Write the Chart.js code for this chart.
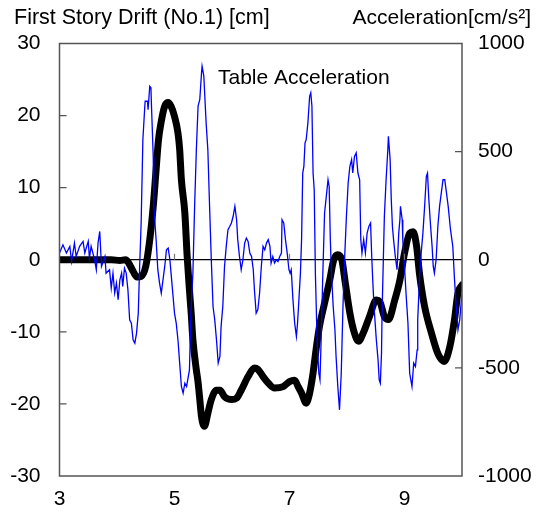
<!DOCTYPE html>
<html lang="en">
<head>
    <meta charset="UTF-8">
    <title>First Story Drift and Table Acceleration</title>
    <script src="https://cdn.jsdelivr.net/npm/chart.js"></script>
    <style>
        * { margin: 0; padding: 0; box-sizing: border-box; }
        body { background: #fff; width: 537px; height: 518px; overflow: hidden; }
        canvas { display: block; }
    </style>
</head>
<body>
    <canvas id="driftChart" width="537" height="518"></canvas>

    <script>
        // time axis ticks [s]
        const xTickValues = [3, 5, 7, 9];

        // first story drift (No.1) [cm]
        const driftTime = [
            3.0, 3.5, 3.9, 4.05, 4.15, 4.2, 4.28, 4.35, 4.42, 4.5, 4.57, 4.63, 4.68, 4.72, 4.77, 4.83,
            4.89, 4.94, 5.0, 5.06, 5.09, 5.12, 5.18, 5.22, 5.26, 5.29, 5.32, 5.38, 5.41, 5.44, 5.47, 5.52,
            5.58, 5.64, 5.73, 5.79, 5.87, 5.99, 6.08, 6.16, 6.28, 6.39, 6.45, 6.54, 6.63, 6.74, 6.89, 7.0,
            7.09, 7.15, 7.21, 7.29, 7.35, 7.41, 7.47, 7.52, 7.61, 7.7, 7.77, 7.84, 7.91, 7.97, 8.05, 8.13,
            8.2, 8.28, 8.39, 8.51, 8.57, 8.65, 8.72, 8.83, 8.92, 9.0, 9.09, 9.15, 9.21, 9.26, 9.35, 9.47,
            9.58, 9.69, 9.79, 9.87, 9.93, 10.0
        ];
        const driftValues = [
            0, 0, 0, -0.1, 0, -0.4, -1.6, -2.4, -2.3, -0.9, 2.8, 7.4, 12.5, 16.5, 19.2, 21.3,
            21.8, 21.3, 19.9, 17.6, 15.3, 11.1, 6.5, 0.5, -4.2, -7.4, -11.1, -15.3, -17, -19.4, -21.8, -23.1,
            -21.3, -19.4, -18.1, -18.1, -19.0, -19.4, -19.2, -18.1, -16.2, -15.0, -15.2, -16.2, -17.1, -17.8, -17.6, -16.9,
            -16.7, -17.6, -18.5, -19.9, -18.5, -15.7, -12.0, -9.3, -6.0, -2.8, 0, 0.7, 0, -3.2, -7.4, -10.2,
            -11.3, -10.2, -7.9, -5.6, -5.8, -7.9, -8.3, -5.6, -2.8, 0.9, 3.7, 3.9, 1.9, -1.9, -6.5, -10.2,
            -13.0, -14.1, -12.0, -8.3, -4.6, -3.5
        ];

        // table acceleration [cm/s2]
        const accelTime = [
            3.0, 3.06, 3.12, 3.18, 3.21, 3.26, 3.29, 3.35, 3.41, 3.44, 3.5, 3.52, 3.55, 3.61, 3.64, 3.67,
            3.7, 3.73, 3.79, 3.81, 3.87, 3.9, 3.93, 3.96, 3.99, 4.02, 4.05, 4.08, 4.1, 4.13, 4.16, 4.19,
            4.22, 4.25, 4.28, 4.31, 4.34, 4.37, 4.39, 4.42, 4.45, 4.48, 4.49, 4.53, 4.54, 4.57, 4.59, 4.6,
            4.63, 4.64, 4.68, 4.71, 4.74, 4.77, 4.8, 4.83, 4.86, 4.89, 4.92, 4.94, 4.97, 5.0, 5.03, 5.06,
            5.09, 5.12, 5.15, 5.18, 5.21, 5.26, 5.28, 5.29, 5.32, 5.35, 5.38, 5.41, 5.44, 5.47, 5.48, 5.51,
            5.55, 5.58, 5.61, 5.64, 5.67, 5.7, 5.73, 5.76, 5.79, 5.81, 5.84, 5.87, 5.9, 5.93, 5.96, 5.99,
            6.02, 6.05, 6.08, 6.1, 6.13, 6.16, 6.19, 6.22, 6.25, 6.28, 6.31, 6.34, 6.37, 6.39, 6.42, 6.45,
            6.48, 6.51, 6.54, 6.57, 6.6, 6.63, 6.66, 6.68, 6.71, 6.74, 6.77, 6.8, 6.83, 6.86, 6.87, 6.9,
            6.93, 6.96, 6.99, 7.01, 7.03, 7.06, 7.09, 7.12, 7.14, 7.16, 7.19, 7.21, 7.23, 7.25, 7.27, 7.29,
            7.32, 7.35, 7.37, 7.39, 7.41, 7.43, 7.45, 7.48, 7.51, 7.53, 7.55, 7.58, 7.61, 7.64, 7.67, 7.69,
            7.71, 7.73, 7.76, 7.79, 7.81, 7.84, 7.87, 7.9, 7.93, 7.96, 7.99, 8.02, 8.05, 8.08, 8.1, 8.13,
            8.16, 8.19, 8.22, 8.24, 8.26, 8.29, 8.32, 8.35, 8.38, 8.41, 8.43, 8.45, 8.47, 8.49, 8.51, 8.54,
            8.56, 8.58, 8.6, 8.61, 8.64, 8.65, 8.68, 8.71, 8.72, 8.75, 8.77, 8.79, 8.81, 8.84, 8.87, 8.9,
            8.92, 8.93, 8.96, 8.97, 9.0, 9.03, 9.06, 9.09, 9.11, 9.13, 9.16, 9.19, 9.22, 9.23, 9.26, 9.29,
            9.32, 9.35, 9.38, 9.4, 9.42, 9.45, 9.48, 9.5, 9.52, 9.55, 9.58, 9.61, 9.64, 9.67, 9.7, 9.73,
            9.76, 9.8, 9.84, 9.87, 9.9, 9.93, 9.96, 10.0
        ];
        const accelValues = [
            31, 69, 31, 62, -8, 77, 15, 62, 85, 31, 85, 8, 62, 0, -46, 77,
            131, -31, 15, -62, -46, -131, -62, -154, -108, -185, -93, -62, -123, -39, -62, -139,
            -278, -293, -370, -386, -339, -247, -62, 170, 555, 694, 733, 733, 694, 802, 795, 710,
            478, 247, 93, -46, -108, -154, -93, -31, 46, 54, 0, -62, -154, -247, -293, -370,
            -478, -586, -617, -571, -586, -509, -293, -216, -62, 247, 509, 710, 741, 864, 895, 849,
            633, 509, 247, 0, -216, -278, -370, -478, -447, -309, -216, -31, 62, 139, 154, 170,
            201, 247, 185, 93, 15, -46, 0, 77, 100, 85, 31, 15, -46, -139, -247, -230,
            -154, -31, 62, 46, 77, 93, 62, -15, 15, -15, 0, -8, 15, 31, 185, 170,
            93, 31, -46, -62, -46, -185, -293, -355, -293, -201, -62, 93, 401, 432, 540, 555,
            633, 756, 772, 710, 401, 324, -62, -370, -525, -555, -370, -62, 216, 293, 370, 339,
            93, -62, -216, -324, -447, -586, -694, -525, -216, 15, 201, 355, 432, 463, 401, 478,
            494, 401, 370, 93, 31, 93, 31, 123, 154, 170, 15, -108, -216, -293, -370, -463,
            -555, -571, -432, -247, 93, 201, 370, 509, 571, 463, 278, 154, 93, 15, -46, 123,
            185, 247, 185, 93, -31, -170, -293, -525, -555, -586, -478, -494, -417, -278, -93, 31,
            123, 247, 386, 401, 293, 170, 62, -31, -62, 0, 154, 247, 309, 370, 370, 309,
            247, 139, 62, -93, -216, -324, -278, -154
        ];

        const FONT = '"Liberation Sans", Arial, sans-serif';

        // frame, inward ticks and the free texts
        const decorations = {
            id: 'decorations',
            afterDraw(chart) {
                const { ctx, chartArea: a, scales } = chart;
                const { x, y, y1 } = scales;
                ctx.save();

                ctx.strokeStyle = '#555';
                ctx.lineWidth = 1.5;
                ctx.strokeRect(a.left, a.top, a.right - a.left, a.bottom - a.top);

                ctx.lineWidth = 1.2;
                ctx.beginPath();
                [-20, -10, 10, 20].forEach(v => {
                    const py = y.getPixelForValue(v);
                    ctx.moveTo(a.left, py);
                    ctx.lineTo(a.left + 7, py);
                });
                [-500, 500].forEach(v => {
                    const py = y1.getPixelForValue(v);
                    ctx.moveTo(a.right, py);
                    ctx.lineTo(a.right - 7, py);
                });
                ctx.stroke();

                ctx.strokeStyle = '#777';
                ctx.beginPath();
                const y0 = y.getPixelForValue(0);
                xTickValues.slice(1).forEach(v => {
                    const px = x.getPixelForValue(v);
                    ctx.moveTo(px, y0);
                    ctx.lineTo(px, y0 - 6);
                });
                ctx.stroke();

                ctx.fillStyle = '#000';
                ctx.font = '21.5px ' + FONT;
                ctx.textBaseline = 'alphabetic';
                ctx.textAlign = 'left';
                ctx.fillText('First Story Drift (No.1) [cm]', 14, 24);
                ctx.font = '21px ' + FONT;
                ctx.fillText('Table Acceleration', 218, 84);
                ctx.textAlign = 'right';
                ctx.fillText('Acceleration[cm/s²]', 531, 24);

                ctx.restore();
            }
        };

        new Chart(document.getElementById('driftChart'), {
            type: 'line',
            data: {
                datasets: [{
                    label: 'Table Acceleration',
                    data: accelTime.map((t, i) => ({ x: t, y: accelValues[i] })),
                    yAxisID: 'y1',
                    borderColor: '#0000ff',
                    borderWidth: 1.3,
                    pointRadius: 0,
                    tension: 0,
                    order: 0
                }, {
                    label: 'First Story Drift',
                    data: driftTime.map((t, i) => ({ x: t, y: driftValues[i] })),
                    yAxisID: 'y',
                    borderColor: '#000',
                    borderWidth: 7,
                    pointRadius: 0,
                    cubicInterpolationMode: 'monotone',
                    borderCapStyle: 'round',
                    borderJoinStyle: 'round',
                    order: 1
                }]
            },
            options: {
                responsive: false,
                animation: false,
                events: [],
                layout: { padding: { top: 43.5, left: 0, right: 0, bottom: 0 } },
                plugins: {
                    legend: { display: false },
                    tooltip: { enabled: false }
                },
                scales: {
                    x: {
                        type: 'linear',
                        min: 3,
                        max: 10,
                        afterBuildTicks: s => { s.ticks = xTickValues.map(v => ({ value: v })); },
                        afterFit: s => { s.height = 42; },
                        grid: { display: false },
                        border: { display: false },
                        ticks: {
                            color: '#000',
                            padding: 3,
                            maxRotation: 0,
                            font: { family: FONT, size: 21 }
                        }
                    },
                    y: {
                        position: 'left',
                        min: -30,
                        max: 30,
                        afterFit: s => { s.width = 59.5; },
                        border: { display: false },
                        grid: {
                            drawTicks: false,
                            color: c => c.tick && c.tick.value === 0 ? '#000' : 'rgba(0,0,0,0)',
                            lineWidth: 1.2
                        },
                        ticks: {
                            stepSize: 10,
                            color: '#000',
                            padding: 19,
                            font: { family: FONT, size: 21 }
                        }
                    },
                    y1: {
                        position: 'right',
                        min: -1000,
                        max: 1000,
                        afterFit: s => { s.width = 75; },
                        border: { display: false },
                        grid: { display: false, drawTicks: false },
                        ticks: {
                            stepSize: 500,
                            color: '#000',
                            padding: 16,
                            font: { family: FONT, size: 21 },
                            callback: v => String(v)
                        }
                    }
                }
            },
            plugins: [decorations]
        });
    </script>
</body>
</html>
